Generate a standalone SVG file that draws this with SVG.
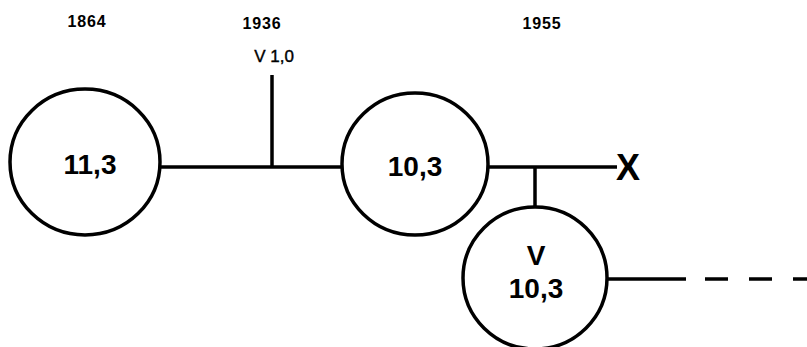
<svg xmlns="http://www.w3.org/2000/svg" width="807" height="347" viewBox="0 0 807 347">
<style>
.c{fill:#fff;stroke:#000;stroke-width:3.5}
.l{stroke:#000;stroke-width:3.5;fill:none}
.y{font-family:"Liberation Sans",Arial,sans-serif;font-weight:bold;font-size:16px;letter-spacing:0.8px;text-anchor:middle}
.n{font-family:"Liberation Sans",Arial,sans-serif;font-weight:bold;font-size:28px;text-anchor:middle}
</style>
<rect width="807" height="347" fill="#fff"/>
<g id="years">
<text class="y" x="87" y="27">1864</text>
<text class="y" x="262" y="29">1936</text>
<text class="y" x="542" y="29">1955</text>
</g>
<g id="connectors">
<line class="l" x1="159" y1="167" x2="343" y2="167"/>
<line class="l" x1="272" y1="75" x2="272" y2="167"/>
<line class="l" x1="487" y1="167" x2="617" y2="167"/>
<line class="l" x1="535" y1="167" x2="535" y2="206"/>
<line class="l" x1="607" y1="279" x2="686" y2="279"/>
<line class="l" x1="705" y1="279" x2="807" y2="279" stroke-dasharray="23 21"/>
</g>
<g id="label-v10">
<text x="274" y="62" font-family="Liberation Sans,Arial,sans-serif" font-size="17" stroke="#000" stroke-width="0.4" text-anchor="middle">V 1,0</text>
</g>
<g id="node-1864">
<ellipse class="c" cx="85" cy="162" rx="75" ry="73"/>
<text class="n" x="90" y="174">11,3</text>
</g>
<g id="node-1955">
<ellipse class="c" cx="415" cy="164" rx="73" ry="71"/>
<text class="n" x="415" y="176">10,3</text>
</g>
<g id="end-x">
<text x="628" y="180" font-family="Liberation Sans,Arial,sans-serif" font-size="36" font-weight="bold" text-anchor="middle">X</text>
</g>
<g id="node-v">
<ellipse class="c" cx="535" cy="278" rx="72" ry="71"/>
<text class="n" x="536" y="265">V</text>
<text class="n" x="536" y="298">10,3</text>
</g>
</svg>
